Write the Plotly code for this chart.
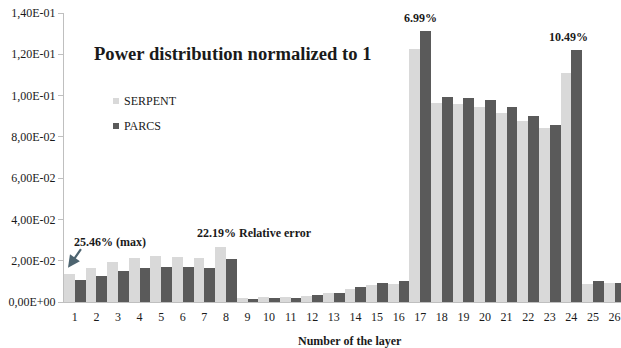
import plotly.graph_objects as go

# Layer numbers and normalized power per layer for the two codes
layers = list(range(1, 27))
serpent = [0.0134, 0.0163, 0.0195, 0.0214, 0.0224, 0.0219, 0.0214, 0.0268,
           0.0019, 0.0026, 0.0024, 0.0031, 0.0044, 0.0065, 0.0084, 0.0089,
           0.1228, 0.0962, 0.0957, 0.0945, 0.0916, 0.0877, 0.0844, 0.1107,
           0.0089, 0.0092]
parcs = [0.0105, 0.0126, 0.0150, 0.0165, 0.0171, 0.0171, 0.0165, 0.0210,
         0.0016, 0.0021, 0.0021, 0.0032, 0.0045, 0.0071, 0.0090, 0.0100,
         0.1312, 0.0992, 0.0987, 0.0978, 0.0947, 0.0902, 0.0857, 0.1223,
         0.0100, 0.0093]

y_ticks = [0.0, 0.02, 0.04, 0.06, 0.08, 0.10, 0.12, 0.14]
y_tick_text = ["0,00E+00", "2,00E-02", "4,00E-02", "6,00E-02",
               "8,00E-02", "1,00E-01", "1,20E-01", "1,40E-01"]

LIGHT = "#d9d9d9"
DARK = "#5a5a5a"
FONT = "Liberation Serif"
TXT = "#1a1a1a"

# plot area in pixels (used to place free text and legend keys)
L, R, T, B = 64, 621, 13, 302


def px(x):
    return (x - L) / (R - L)


def py(y):
    return (B - y) / (B - T)


def label(text, x, y, size=12, xanchor="center"):
    return dict(text=text, x=px(x), y=py(y), xref="paper", yref="paper",
                xanchor=xanchor, yanchor="middle", showarrow=False,
                font=dict(size=size, family=FONT, color=TXT))


fig = go.Figure()
fig.add_trace(go.Bar(x=layers, y=serpent, name="SERPENT",
                     marker=dict(color=LIGHT, line=dict(width=0))))
fig.add_trace(go.Bar(x=layers, y=parcs, name="PARCS",
                     marker=dict(color=DARK, line=dict(width=0))))

annotations = [
    label("<b>Power distribution normalized to 1</b>", 233, 54, size=18.6),
    dict(text="<b>6.99%</b>", x=17, y=parcs[16], xref="x", yref="y",
         yanchor="bottom", yshift=4, showarrow=False,
         font=dict(size=12, family=FONT, color=TXT)),
    dict(text="<b>10.49%</b>", x=23.88, y=parcs[23], xref="x", yref="y",
         yanchor="bottom", yshift=4, showarrow=False,
         font=dict(size=12, family=FONT, color=TXT)),
    label("<b>25.46% (max)</b>", 110, 242),
    label("<b>22.19% Relative error</b>", 255, 233),
    # arrow pointing at layer 1
    dict(text="", x=0.685, y=0.0166, xref="x", yref="y", showarrow=True,
         ax=14, ay=-20, arrowhead=2, arrowsize=1.1, arrowwidth=2.2,
         arrowcolor="#4d6470"),
    label("<b>Number of the layer</b>", 350, 341),
    # legend labels
    label("SERPENT", 122, 101, xanchor="left"),
    label("PARCS", 122, 126, xanchor="left"),
]

shapes = []
for col, yc in [(LIGHT, 101), (DARK, 126)]:
    shapes.append(dict(type="rect", xref="paper", yref="paper",
                       x0=px(113), x1=px(119), y0=py(yc + 3), y1=py(yc - 3),
                       fillcolor=col, line=dict(width=0)))

fig.update_layout(
    width=621, height=348,
    margin=dict(l=L, r=621 - R, t=T, b=348 - B),
    paper_bgcolor="white", plot_bgcolor="white",
    barmode="group", bargap=0, bargroupgap=0,
    showlegend=False,
    annotations=annotations,
    shapes=shapes,
    font=dict(family=FONT, size=12, color=TXT),
)
fig.update_xaxes(
    range=[0.5, 26.3], tickmode="array", tickvals=layers,
    ticktext=[str(v) for v in layers], ticks="", showgrid=False,
    showline=True, linecolor="#bfbfbf", linewidth=1,
    tickfont=dict(size=12, family=FONT, color=TXT), zeroline=False,
    ticklabelstandoff=4,
)
fig.update_yaxes(
    range=[0, 0.14], tickmode="array", tickvals=y_ticks, ticktext=y_tick_text,
    ticks="outside", ticklen=5, tickcolor="#bfbfbf", showgrid=False,
    showline=True, linecolor="#bfbfbf", linewidth=1, zeroline=False,
    tickfont=dict(size=12, family=FONT, color=TXT),
)

fig.write_html("out.html")
